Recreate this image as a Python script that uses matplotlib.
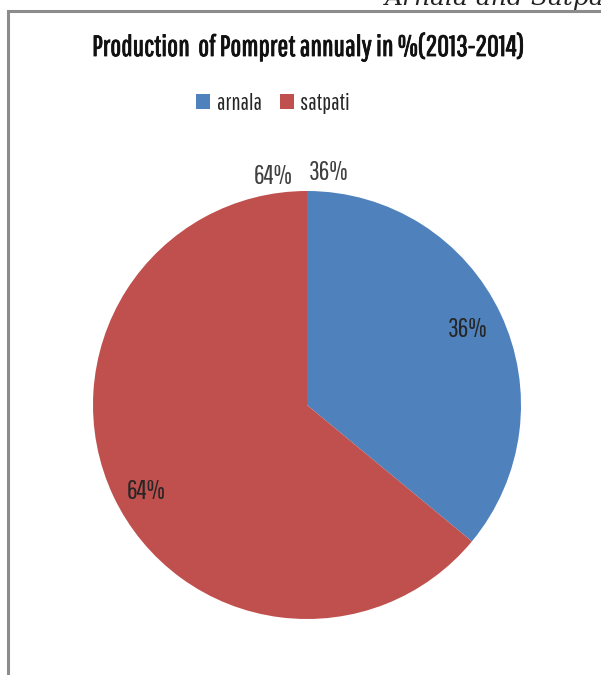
import matplotlib
matplotlib.use("Agg")
import matplotlib.pyplot as plt
import matplotlib.patheffects as pe
from matplotlib.patches import Rectangle

# data
sites = ["arnala", "satpati"]
share = [36, 64]
colors = ["#4F81BD", "#C0504D"]
title = "Production  of Pompret annualy in %(2013-2014)"

FONT = "Pathway Gothic One"

fig = plt.figure(figsize=(6.01, 6.75), dpi=100)
W, H = 601, 675

# chart frame (left and top edges visible)
fig.add_artist(Rectangle((8 / W, -0.05), 1.2, 1 - 11 / H + 0.05, transform=fig.transFigure,
                         fill=False, edgecolor="#8c8c8c", linewidth=2.2))

# caption from the page above, mostly cut off
fig.text(385 / W, 1 - 5 / H, "Arnala and Satpati", family="DejaVu Serif", style="italic",
         fontsize=18, ha="left", va="baseline", color="#222222")

fig.text(308 / W, 1 - 47 / H, title, family=FONT, fontsize=21, ha="center", va="center",
         color="#111111", path_effects=[pe.withStroke(linewidth=0.6, foreground="#111111")])

cx, cy, r = 307, 405, 214
ax = fig.add_axes([(cx - r) / W, (H - cy - r) / H, 2 * r / W, 2 * r / H])
wedges, texts, autotexts = ax.pie(share, colors=colors, startangle=90, counterclock=False,
                                  autopct="%d%%", pctdistance=0.83,
                                  textprops=dict(family=FONT, fontsize=19, color="#262626"))
# excel nudged the big slice label a little lower
x, y = autotexts[1].get_position()
autotexts[1].set_position((x, y - 0.05))
ax.set_xlim(-1, 1)
ax.set_ylim(-1, 1)
ax.set_aspect("equal")

# legend
ax.legend(wedges, sites, loc="center", bbox_to_anchor=(273 / W, 1 - 103 / H),
          bbox_transform=fig.transFigure, ncol=2, frameon=False, prop=dict(family=FONT, size=16.5),
          handlelength=0.6, handleheight=0.6, handletextpad=0.3, columnspacing=0.8,
          labelcolor="#262626")

# duplicate outside labels near the top of the pie
fig.text(273 / W, 1 - 177 / H, "%d%%" % share[1], family=FONT, fontsize=19, ha="center",
         va="center", color="#404040")
fig.text(329 / W, 1 - 172 / H, "%d%%" % share[0], family=FONT, fontsize=19, ha="center",
         va="center", color="#404040")

fig.savefig("out.png", dpi=100)
